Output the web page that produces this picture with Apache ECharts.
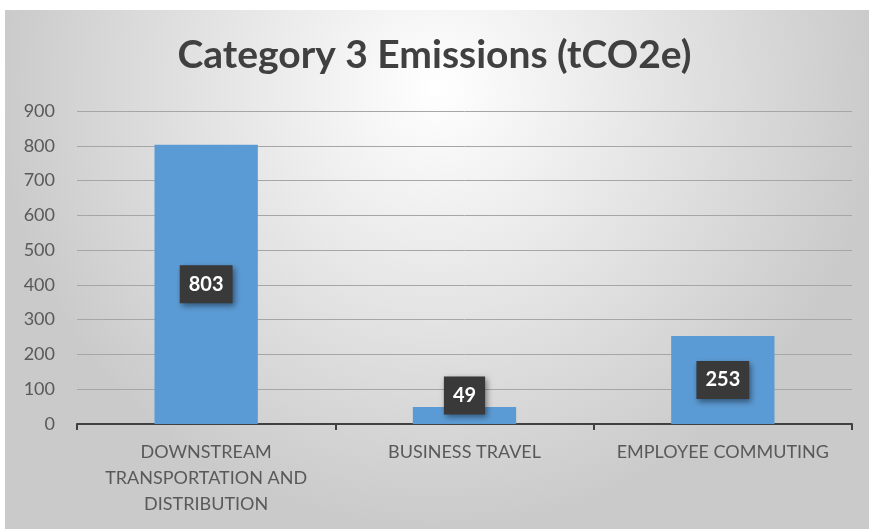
<!DOCTYPE html>
<html>
<head>
<meta charset="utf-8">
<script src="https://cdn.jsdelivr.net/npm/echarts@6/dist/echarts.min.js"></script>
<style>
  html, body { margin: 0; padding: 0; background: #ffffff; }
  #chart { width: 869px; height: 529px; }
</style>
</head>
<body>
<div id="chart"></div>
<script>
// Emission categories and their totals (tCO2e)
const categories = ['DOWNSTREAM\nTRANSPORTATION AND\nDISTRIBUTION', 'BUSINESS TRAVEL', 'EMPLOYEE COMMUTING'];
const emissions = [803, 49, 253];
const yTicks = { min: 0, max: 900, interval: 100 };

const chart = echarts.init(document.getElementById('chart'));

const FONT = 'Lato, "Open Sans", sans-serif';

// Dark value tag drawn on each bar
const labelBox = {
  show: true,
  position: 'inside',
  color: '#ffffff',
  fontFamily: FONT,
  fontWeight: 'bold',
  fontSize: 20,
  backgroundColor: '#393939',
  padding: [9, 9, 9, 9],
  shadowColor: 'rgba(0,0,0,0.45)',
  shadowBlur: 6,
  shadowOffsetX: 2,
  shadowOffsetY: 3
};

chart.setOption({
  backgroundColor: '#ffffff',
  animation: false,
  graphic: [{
    type: 'rect',
    z: -100,
    silent: true,
    shape: { x: 5, y: 10, width: 864, height: 519 },
    style: {
      fill: new echarts.graphic.RadialGradient(0.5, 0.15, 0.85, [
        { offset: 0, color: '#ffffff' },
        { offset: 1, color: '#cacaca' }
      ])
    }
  }],
  title: {
    text: 'Category 3 Emissions (tCO2e)',
    left: 'center',
    top: 31,
    textStyle: {
      fontFamily: FONT,
      fontWeight: 'bold',
      fontSize: 39,
      color: '#404040'
    }
  },
  grid: { left: 77, right: 17, top: 111, bottom: 105, containLabel: false },
  xAxis: {
    type: 'category',
    data: categories,
    axisLine: { lineStyle: { color: '#404040', width: 2 } },
    axisTick: { show: true, alignWithLabel: false, length: 6, lineStyle: { color: '#404040', width: 2 } },
    axisLabel: {
      color: '#595959',
      fontFamily: FONT,
      fontSize: 18,
      lineHeight: 26,
      margin: 15,
      interval: 0
    }
  },
  yAxis: {
    type: 'value',
    min: yTicks.min,
    max: yTicks.max,
    interval: yTicks.interval,
    axisLine: { show: false },
    axisTick: { show: false },
    axisLabel: {
      color: '#595959',
      fontFamily: FONT,
      fontSize: 18,
      margin: 22
    },
    splitLine: { lineStyle: { color: '#a6a6a6', width: 1 } }
  },
  series: [{
    type: 'bar',
    data: emissions.map((v, i) => ({
      value: v,
      label: i === 1 ? Object.assign({}, labelBox, { offset: [0, -20] }) : labelBox
    })),
    barCategoryGap: '60%',
    itemStyle: { color: '#5b9bd5' },
    label: labelBox
  }]
});
</script>
</body>
</html>
